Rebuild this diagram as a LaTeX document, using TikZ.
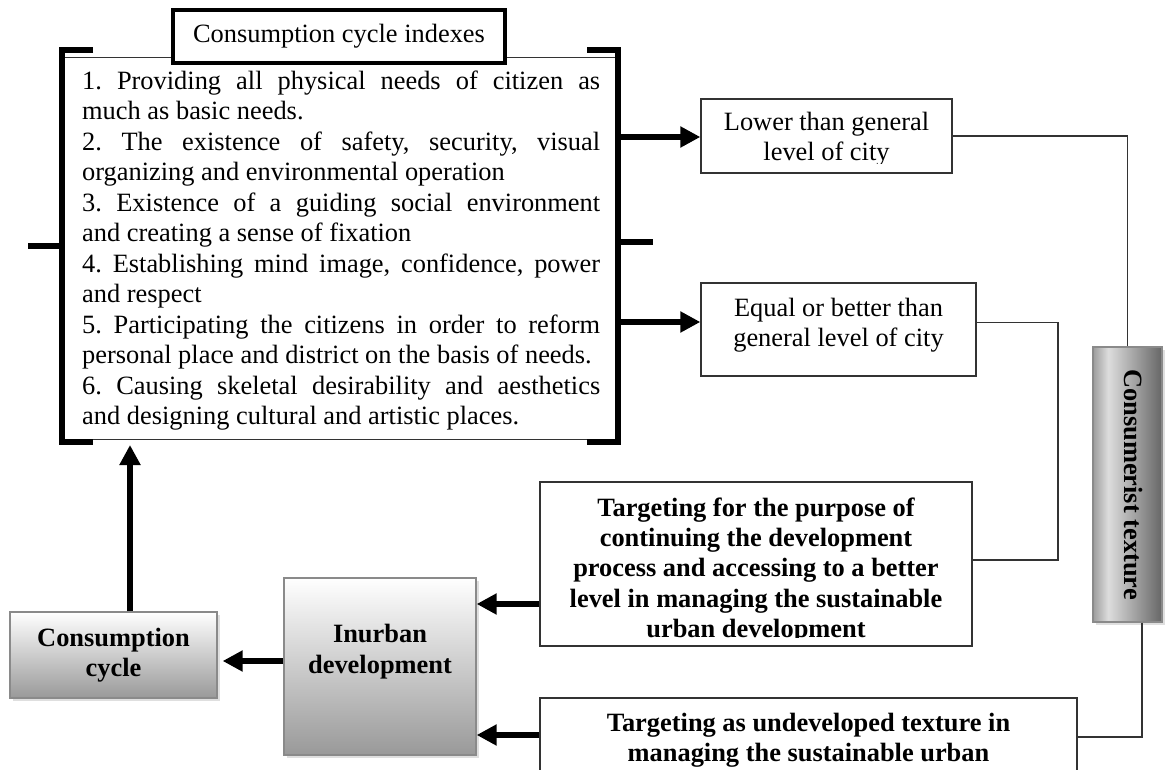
\documentclass[tikz,border=0pt]{standalone}
\usepackage{fontspec}
\setmainfont{Liberation Serif}
\usetikzlibrary{arrows.meta,shadows}
\definecolor{lnc}{HTML}{333333}
\definecolor{bdc}{HTML}{8A8A8A}
\definecolor{gbot}{HTML}{999999}
\definecolor{csa}{HTML}{9C9C9C}
\definecolor{csb}{HTML}{DDDDDD}
\definecolor{csc}{HTML}{666666}
\pgfdeclarehorizontalshading{consh}{100bp}{color(0bp)=(csa); color(25bp)=(csa); color(36bp)=(csb); color(75bp)=(csc); color(100bp)=(csc)}
\frenchspacing
\begin{document}
\begin{tikzpicture}[x=1pt,y=-1pt,
  rmtxt/.style={font=\fontsize{26.4}{30.5}\selectfont},
  boldtxt/.style={font=\fontsize{26.4}{30.3}\selectfont\bfseries},
  thinbox/.style={draw=lnc, line width=1.3pt, fill=white, inner sep=0pt},
  conn/.style={draw=lnc, line width=1.3pt},
  bigarrow/.style={line width=6pt, -{Triangle[length=20pt,width=20pt]}},
  bracket/.style={line width=6pt},
  shadowed/.style={drop shadow={shadow xshift=3pt, shadow yshift=-3pt, fill=gray!50, opacity=0.5}},
  gradbox/.style={draw=bdc, line width=1.3pt, top color=white, bottom color=gbot, inner sep=0pt, shadowed},
]
\useasboundingbox (0,0) rectangle (1165,770);

% main index box
\node[draw=lnc, line width=1.3pt, minimum width=554pt, minimum height=382pt, anchor=north west, inner sep=0pt] (idx) at (63,57) {};
\node[rmtxt, anchor=north west, inner sep=0pt, text width=518pt, align=justify] (idxt) at (82,70.5) {%
\setlength{\parskip}{0pt}\setlength{\parindent}{0pt}\tolerance=10000\hyphenpenalty=10000\frenchspacing
1. Providing all physical needs of citizen as\linebreak
much as basic needs.\par
2. The existence of safety, security, visual\linebreak
organizing and environmental operation\par
3. Existence of a guiding social environment\linebreak
and creating a sense of fixation\par
4. Establishing mind image, confidence, power\linebreak
and respect\par
5. Participating the citizens in order to reform\linebreak
personal place and district on the basis of needs.\par
6. Causing skeletal desirability and aesthetics\linebreak
and designing cultural and artistic places.};

% brackets
\draw[bracket] (93,50) -- (62,50) -- (62,442) -- (93,442);
\draw[bracket] (587,50) -- (618,50) -- (618,442) -- (587,442);
\draw[bracket] (28,246) -- (62,246);
\draw[bracket] (618,242) -- (653,242);

% title
\node[rmtxt, draw, line width=4pt, fill=white, minimum width=332pt, minimum height=53pt, inner sep=0pt] (title) at (339,36.5) {Consumption cycle indexes};

% right boxes
\node[thinbox, minimum width=251pt, minimum height=74pt] (low) at (826.5,136) {};
\begin{scope}
\clip (701,99) rectangle (952,164);
\node[rmtxt, align=center, inner sep=0pt] (lowt) at (826.5,139) {Lower than general\\level of city};
\end{scope}
\node[thinbox, minimum width=275pt, minimum height=93pt] (eq) at (838.5,329.5) {};
\node[rmtxt, align=center, inner sep=0pt] (eqt) at (838.5,325) {Equal or better than\\general level of city};
\node[thinbox, minimum width=432pt, minimum height=164pt] (tgt1) at (756,564) {};
\begin{scope}
\clip (541,483) rectangle (971,637);
\node[boldtxt, align=center, inner sep=0pt] (tgt1t) at (756,570.5) {Targeting for the purpose of\\continuing the development\\process and accessing to a better\\level in managing the sustainable\\urban development};
\end{scope}
\node[thinbox, minimum width=537pt, minimum height=80pt] (tgt2) at (808.5,738) {};
\node[boldtxt, align=center, inner sep=0pt] (tgt2t) at (808.5,740) {Targeting as undeveloped texture in\\managing the sustainable urban};

% gradient boxes
\node[boldtxt, gradbox, minimum width=207pt, minimum height=86pt, align=center] (cc) at (113.5,655) {Consumption\\cycle};
\node[gradbox, minimum width=192pt, minimum height=177pt] (inur) at (380,666.5) {};
\node[boldtxt, align=center, inner sep=0pt] (inurt) at (380,651.5) {Inurban\\development};
\node[draw=bdc, line width=1.3pt, shading=consh, minimum width=69pt, minimum height=275pt, inner sep=0pt, shadowed] (cons) at (1127.5,484.5) {};
\node[boldtxt, inner sep=0pt] (const) at (1133,484.5) {\rotatebox{-90}{Consumerist texture}};

% thin connectors
\draw[conn] (low.east) -| (cons.north);
\coordinate (c2) at (1058,560);
\draw[conn] ([yshift=7pt]eq.east) -| (c2) -- (c2 -| tgt1.east);
\coordinate (c3) at (1142,737);
\draw[conn] (cons.south -| c3) -- (c3) -- (c3 -| tgt2.east);

% thick arrows
\coordinate (r1) at (618,137);
\draw[bigarrow] (r1) -- (r1 -| low.west);
\coordinate (r2) at (618,322);
\draw[bigarrow] (r2) -- (r2 -| eq.west);
\coordinate (a3) at (540,604);
\draw[bigarrow] (a3 -| tgt1.west) -- (a3 -| inur.east);
\coordinate (a4) at (540,735);
\draw[bigarrow] (a4 -| tgt2.west) -- (a4 -| inur.east);
\coordinate (a5) at (284,661);
\draw[bigarrow] (a5 -| inur.west) -- ([xshift=5pt]a5 -| cc.east);
\coordinate (a6) at (130,445);
\draw[bigarrow] (a6 |- cc.north) -- (a6);
\end{tikzpicture}
\end{document}
